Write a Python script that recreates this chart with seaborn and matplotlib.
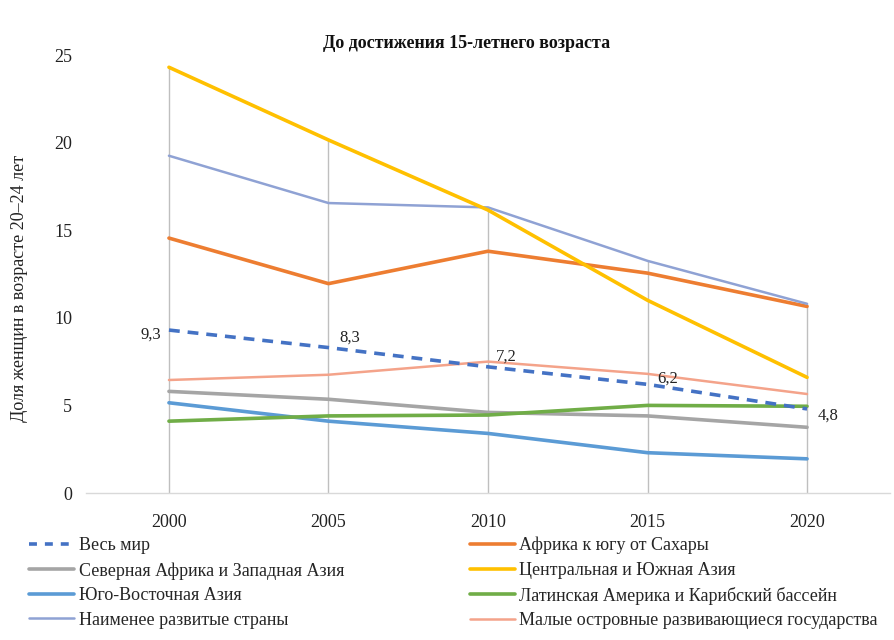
import matplotlib
matplotlib.use("Agg")
import matplotlib.pyplot as plt
import seaborn as sns
import pandas as pd
from matplotlib.lines import Line2D

years = ["2000", "2005", "2010", "2015", "2020"]

world = [9.3, 8.3, 7.2, 6.2, 4.8]
ssa = [14.55, 11.95, 13.8, 12.55, 10.65]
nafr_wasia = [5.8, 5.35, 4.6, 4.4, 3.75]
cs_asia = [24.3, 20.15, 16.15, 11.0, 6.6]
se_asia = [5.15, 4.1, 3.4, 2.3, 1.95]
latam = [4.1, 4.4, 4.45, 5.0, 4.95]
ldc = [19.25, 16.55, 16.3, 13.25, 10.8]
sids = [6.45, 6.75, 7.5, 6.8, 5.65]

names = [
    "Весь мир",
    "Северная Африка и Западная Азия",
    "Юго-Восточная Азия",
    "Наименее развитые страны",
    "Африка к югу от Сахары",
    "Центральная и Южная Азия",
    "Латинская Америка и Карибский бассейн",
    "Малые островные развивающиеся государства",
]
series = [world, nafr_wasia, se_asia, ldc, ssa, cs_asia, latam, sids]
colors = ["#4472C4", "#A5A5A5", "#5B9BD5", "#8FA2D4", "#ED7D31", "#FFC000", "#70AD47", "#F4A38A"]
widths = [2.6, 2.6, 2.6, 1.8, 2.6, 2.6, 2.6, 1.8]

sns.set_theme(style="white")
plt.rcParams["font.family"] = ["Liberation Serif", "DejaVu Serif"]

fig = plt.figure(figsize=(8.95, 6.4), dpi=100)
ax = fig.add_axes([86 / 895, 1 - 493 / 640, (890 - 86) / 895, (493 - 55) / 640])

x = list(range(len(years)))
# drop lines from max to 0
maxes = [max(s[i] for s in series) for i in x]
ax.vlines(x, 0, maxes, color="#BFBFBF", lw=1.0, zorder=1)

draw_order = [1, 2, 6, 7, 0, 4, 3, 5]
for i in draw_order:
    df = pd.DataFrame({"x": x, "y": series[i]})
    ls = (0, (3, 2.2)) if i == 0 else "-"
    sns.lineplot(data=df, x="x", y="y", ax=ax, color=colors[i], lw=widths[i],
                 linestyle=ls, zorder=3 + (1 if i == 0 else 0), legend=False)

offsets = [(-8, -5, "right"), (11, 10, "left"), (8, 10, "left"), (10, 6, "left"), (11, -7, "left")]
for i, (dx, dy, ha) in enumerate(offsets):
    ax.annotate(f"{world[i]:.1f}".replace(".", ","), (x[i], world[i]),
                xytext=(dx, dy), textcoords="offset pixels", ha=ha, va="center",
                fontsize=12, color="#222222")

ax.set_xlim(-0.52, 4.52)
ax.set_ylim(0, 25)
ax.set_xticks(x)
ax.set_xticklabels(years)
ax.set_yticks([0, 5, 10, 15, 20, 25])
ax.tick_params(axis="both", labelsize=13, length=0, colors="#222222")
ax.tick_params(axis="x", pad=15)
ax.tick_params(axis="y", pad=10)
for s in ["top", "right", "left"]:
    ax.spines[s].set_visible(False)
ax.spines["bottom"].set_color("#D9D9D9")
ax.spines["bottom"].set_linewidth(1.0)
ax.set_xlabel("")
ax.set_ylabel("Доля женщин в возрасте 20–24 лет", fontsize=13, color="#222222")
ax.yaxis.set_label_coords(-0.072, 0.468)

fig.text(467 / 895, 1 - 43 / 640, "До достижения 15-летнего возраста", ha="center", va="center",
         fontsize=13, fontweight="bold", color="#111111")

handles = []
for i in range(len(names)):
    ls = (0, (2.2, 2.2)) if i == 0 else "-"
    handles.append(Line2D([], [], color=colors[i], lw=widths[i], linestyle=ls))
fig.legend(handles, names, ncol=2, loc="upper left", bbox_to_anchor=(29 / 895, 1 - 537 / 640),
           frameon=False, fontsize=13, handlelength=2.5, handletextpad=0.25,
           columnspacing=6.95, labelspacing=0.42, borderaxespad=0, borderpad=0)

fig.savefig("out.png", dpi=100)
